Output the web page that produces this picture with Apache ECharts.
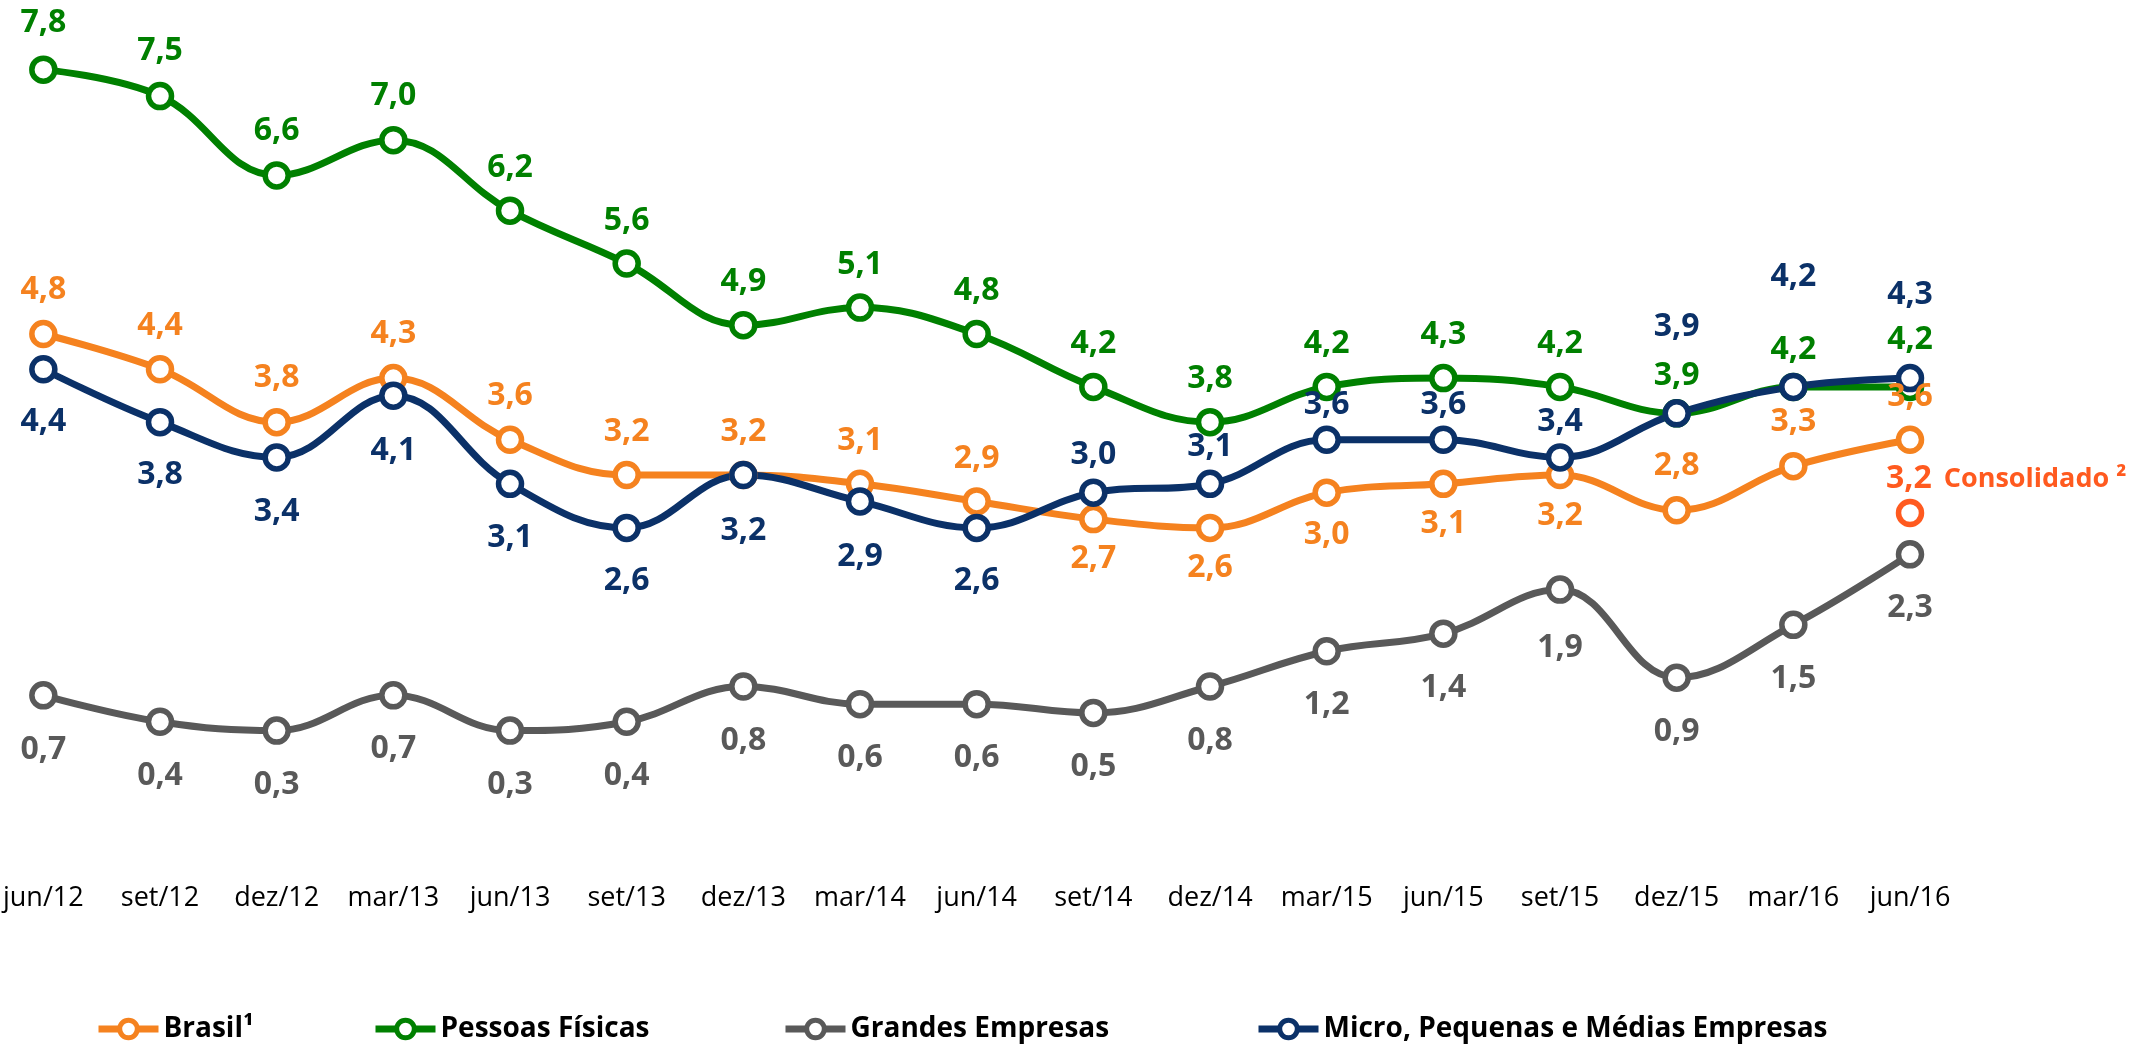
<!DOCTYPE html>
<html>
<head>
<meta charset="utf-8">
<script src="https://cdn.jsdelivr.net/npm/echarts@6/dist/echarts.min.js"></script>
<style>
  html, body { margin: 0; padding: 0; background: #fff; }
  #chart { width: 2145px; height: 1048px; }
</style>
</head>
<body>
<div id="chart"></div>
<script>
const categories = ['jun/12', 'set/12', 'dez/12', 'mar/13', 'jun/13', 'set/13', 'dez/13', 'mar/14', 'jun/14',
  'set/14', 'dez/14', 'mar/15', 'jun/15', 'set/15', 'dez/15', 'mar/16', 'jun/16']

const brasil = [4.8, 4.4, 3.8, 4.3, 3.6, 3.2, 3.2, 3.1, 2.9, 2.7, 2.6, 3.0, 3.1, 3.2, 2.8, 3.3, 3.6]
const pessoasFisicas = [7.8, 7.5, 6.6, 7.0, 6.2, 5.6, 4.9, 5.1, 4.8, 4.2, 3.8, 4.2, 4.3, 4.2, 3.9, 4.2, 4.2]
const grandesEmpresas = [0.7, 0.4, 0.3, 0.7, 0.3, 0.4, 0.8, 0.6, 0.6, 0.5, 0.8, 1.2, 1.4, 1.9, 0.9, 1.5, 2.3]
const mpme = [4.4, 3.8, 3.4, 4.1, 3.1, 2.6, 3.2, 2.9, 2.6, 3.0, 3.1, 3.6, 3.6, 3.4, 3.9, 4.2, 4.3]
const consolidado = 3.2

// vertical label offsets in px (negative = above the point)
const brasilLabelY = [-44, -43, -44, -44, -44, -43, -43, -43, -43, 40, 40, 42, 40, 41, -44, -44, -43]
const pfLabelY = [-47, -45, -44, -44, -43, -43, -43, -43, -43, -43, -43, -43, -43, -43, -37, -37, -47]
const geLabelY = [55, 54, 54, 54, 54, 54, 54, 54, 54, 54, 54, 54, 54, 58, 54, 54, 54]
const mpmeLabelY = [53, 53, 55, 55, 54, 53, 56, 55, 53, -38, -37, -35, -35, -35, -86, -110, -83]

const COLORS = {
  brasil: '#f5821f',
  pf: '#008000',
  ge: '#595959',
  mpme: '#0b3168',
  consolidado: '#ff5a1f'
}

const FONT = 'Open Sans'

function makeSeries(name, values, offsets, color) {
  return {
    name,
    type: 'line',
    smooth: 0.4,
    symbol: 'circle',
    symbolSize: 23,
    lineStyle: { width: 7, color },
    itemStyle: { color: '#fff', borderColor: color, borderWidth: 5.5 },
    label: {
      show: true,
      position: 'inside',
      color,
      fontFamily: FONT,
      fontWeight: 'bold',
      fontSize: 32,
      formatter: p => p.value.toFixed(1).replace('.', ',')
    },
    emphasis: { disabled: true },
    data: values.map((v, i) => ({ value: v, label: { offset: [0, offsets[i]] } }))
  }
}

function legendAt(name, left) {
  return {
    data: [name],
    left,
    top: 1010,
    itemWidth: 60,
    itemHeight: 22,
    selectedMode: false,
    lineStyle: { width: 7 },
    itemStyle: { borderWidth: 5 },
    textStyle: { fontFamily: FONT, fontWeight: 'bold', fontSize: 28, color: '#000' }
  }
}

const chart = echarts.init(document.getElementById('chart'))

chart.setOption({
  animation: false,
  textStyle: { fontFamily: FONT },
  grid: { left: 42, right: 235, top: 52, bottom: 291, containLabel: false },
  xAxis: {
    type: 'category',
    data: categories,
    boundaryGap: false,
    axisLine: { show: false },
    axisTick: { show: false },
    axisLabel: { margin: 128, fontSize: 27, color: '#000', fontFamily: FONT, interval: 0 }
  },
  yAxis: {
    type: 'value',
    min: 0,
    max: 8,
    show: false,
    splitLine: { show: false }
  },
  legend: [
    legendAt('Brasil¹', 90),
    legendAt('Pessoas Físicas', 367),
    legendAt('Grandes Empresas', 777),
    legendAt('Micro, Pequenas e Médias Empresas', 1250)
  ],
  series: [
    makeSeries('Brasil¹', brasil, brasilLabelY, COLORS.brasil),
    makeSeries('Pessoas Físicas', pessoasFisicas, pfLabelY, COLORS.pf),
    makeSeries('Grandes Empresas', grandesEmpresas, geLabelY, COLORS.ge),
    makeSeries('Micro, Pequenas e Médias Empresas', mpme, mpmeLabelY, COLORS.mpme),
    {
      name: 'Consolidado',
      type: 'scatter',
      symbol: 'circle',
      symbolSize: 23,
      symbolOffset: [0, 38],
      itemStyle: { color: '#fff', borderColor: COLORS.consolidado, borderWidth: 5.5, opacity: 1 },
      label: {
        show: true,
        position: 'inside',
        align: 'left',
        offset: [-24, -34],
        formatter: '{a|3,2}{b|Consolidado ²}',
        rich: {
          a: { fontFamily: FONT, fontWeight: 'bold', fontSize: 32, color: COLORS.consolidado },
          b: { fontFamily: FONT, fontWeight: 'bold', fontSize: 27, color: COLORS.consolidado, padding: [0, 0, 0, 12] }
        }
      },
      emphasis: { disabled: true },
      data: [[categories.length - 1, consolidado]]
    }
  ]
})
</script>
</body>
</html>
